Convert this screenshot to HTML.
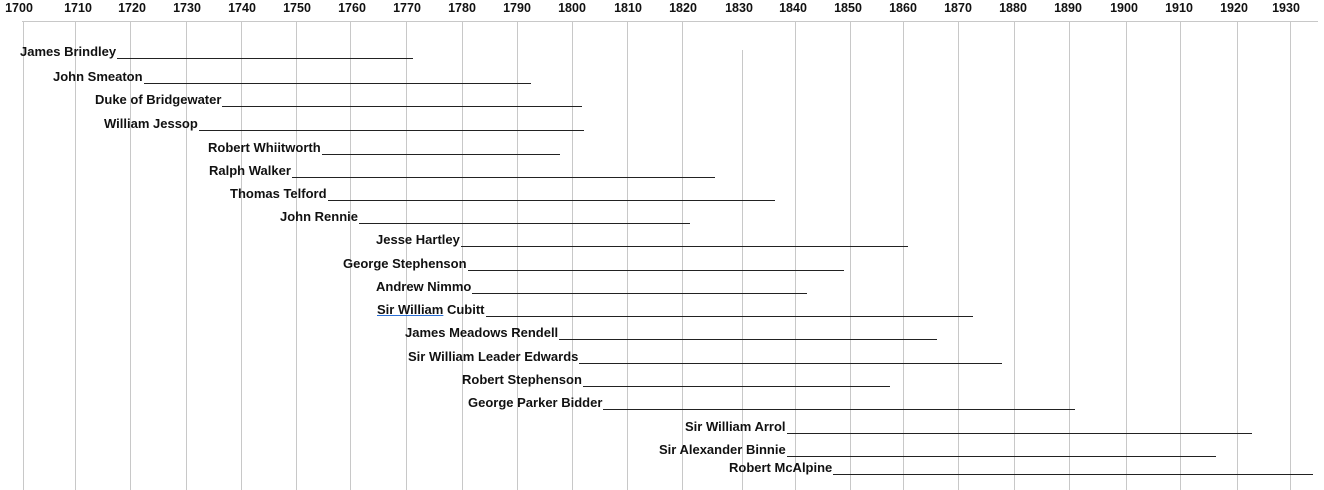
<!DOCTYPE html>
<html><head><meta charset="utf-8"><style>
body{margin:0;width:1324px;height:490px;background:#fff;position:relative;overflow:hidden;font-family:"Liberation Sans",Arial,sans-serif;font-weight:bold;font-size:13px;color:#111}
.g{position:absolute;top:22px;bottom:0;width:1px;background:#c8c8c8}
.y{position:absolute;top:1px;width:40px;margin-left:-20px;text-align:center;font-size:12.5px}
.r{position:absolute;display:flex;align-items:flex-end;height:15px;line-height:15px;white-space:nowrap}
.r i{flex:1;border-bottom:1px solid #222;height:13px;margin-left:1px}
</style></head><body>
<div style="position:absolute;left:22px;top:21px;width:1296px;height:1px;background:#c8c8c8"></div>
<div id="c"></div>
<script>
var xs=[23,75,130,186,241,296,350,406,462,517,572,627,682,742,795,850,903,958,1014,1069,1126,1180,1237,1290];
var lx=[19,78,132,187,242,297,352,407,462,517,572,628,683,739,793,848,903,958,1013,1068,1124,1179,1234,1286];
var h='';
xs.forEach(function(x,i){h+='<div class="g" style="left:'+x+'px;'+(i==13?'top:50px':'')+'"></div>';h+='<div class="y" style="left:'+lx[i]+'px">'+(1700+i*10)+'</div>';});
var rows=[["James Brindley",20,413,50],["John Smeaton ",53,531,75],["Duke of Bridgewater",95,582,98],["William Jessop",104,584,122],["Robert Whiitworth",208,560,146],["Ralph Walker",209,715,169],["Thomas Telford",230,775,192],["John Rennie",280,690,215],["Jesse Hartley",376,908,238],["George Stephenson",343,844,262],["Andrew Nimmo",376,807,285],["<u style='text-decoration-color:#2a6fd6'>Sir&nbsp;William</u> Cubitt",377,973,308],["James Meadows Rendell",405,937,331],["Sir William Leader Edwards",408,1002,355],["Robert Stephenson",462,890,378],["George Parker Bidder",468,1075,401],["Sir William Arrol",685,1252,425],["Sir Alexander Binnie",659,1216,448],["Robert McAlpine",729,1313,466]];
rows.forEach(function(r){h+='<div class="r" style="left:'+r[1]+'px;width:'+(r[2]-r[1])+'px;top:'+(r[3]-6)+'px"><span>'+r[0]+'</span><i></i></div>';});
document.getElementById('c').innerHTML=h;
</script>
</body></html>
